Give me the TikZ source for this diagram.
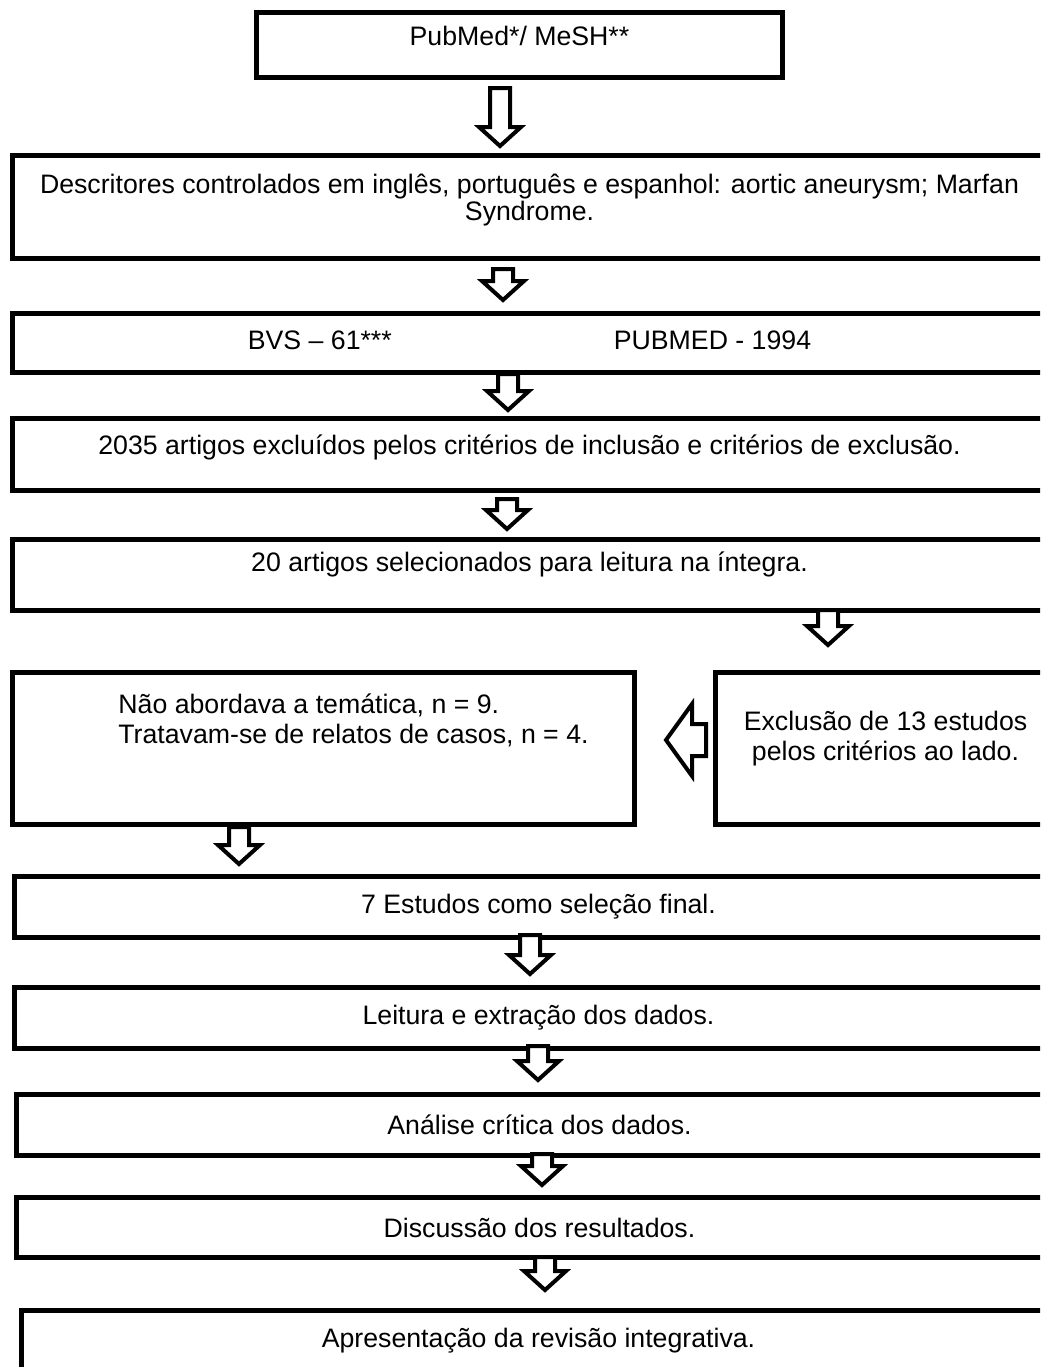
\documentclass[tikz,border=0pt]{standalone}
\usepackage{fontspec}
\setmainfont{Liberation Sans}
\usetikzlibrary{calc}

%downward block arrow: from node, to node, x, start shift, end shift
\newcommand{\blockdown}[5]{%
	\filldraw[arrowbody] ($(#1.south -| #3,0)+(-\sw,#4)$) -- ($(#1.south -| #3,0)+(\sw,#4)$)
		-- ($(#2.north -| #3,0)+(\sw,#5-\hl)$) -- ($(#2.north -| #3,0)+(\hw,#5-\hl)$)
		-- ($(#2.north -| #3,0)+(0,#5)$)
		-- ($(#2.north -| #3,0)+(-\hw,#5-\hl)$) -- ($(#2.north -| #3,0)+(-\sw,#5-\hl)$) -- cycle;}

\begin{document}
\begin{tikzpicture}[x=0.5pt,y=-0.5pt,
	box/.style={draw=black, line width=2.5pt, anchor=north west, inner sep=2pt, align=center, font=\fontsize{13.35}{15}\selectfont},
	boxtext/.style={inner sep=2pt, font=\fontsize{13.35}{15}\selectfont},
	lift/.style={text height=10pt, text depth=#1},
	arrowbody/.style={draw=black, fill=white, line width=2pt}]

	\def\px{0.5pt} %one pixel of the page
	\def\sw{10} %half shaft width
	\def\hw{21} %half head width
	\def\hl{19} %head length

	\useasboundingbox (0,0) rectangle (1040,1367);
	\clip (0,0) rectangle (1040,1367);

	%boxes, top to bottom
	\node[box, lift=10pt, minimum width=526*\px, minimum height=65*\px] (pub) at (254,10) {PubMed*/ MeSH**};
	\node[box, text depth=10pt, font=\fontsize{13.35}{13.5}\selectfont, minimum width=1034*\px, minimum height=103*\px] (desc) at (10,153) {Descritores controlados em inglês, português e espanhol: aortic aneurysm; Marfan\\Syndrome.};
	\node[box, lift=4pt, minimum width=1034*\px, minimum height=59*\px] (bvs) at (10,311) {BVS – 61***\hspace{111pt}PUBMED - 1994};
	\node[box, lift=10pt, minimum width=1034*\px, minimum height=72*\px] (art) at (10,416) {2035 artigos excluídos pelos critérios de inclusão e critérios de exclusão.};
	\node[box, lift=14pt, minimum width=1034*\px, minimum height=71*\px] (sel) at (10,537) {20 artigos selecionados para leitura na íntegra.};

	%side boxes
	\node[box, minimum width=622*\px, minimum height=152*\px] (nao) at (10,670) {};
	\node[boxtext, anchor=north west, align=left] (naotxt) at ($(nao.north west)+(104,19)$) {Não abordava a temática, n = 9.\\Tratavam-se de relatos de casos, n = 4.};
	\node[box, minimum width=340*\px, minimum height=152*\px] (excl) at (713,670) {};
	\node[boxtext, align=center] (excltxt) at ($(excl.north)+(0,69)$) {Exclusão de 13 estudos\\pelos critérios ao lado.};

	\node[box, minimum width=1048*\px, minimum height=61*\px] (sete) at (12,874) {7 Estudos como seleção final.};
	\node[box, minimum width=1048*\px, minimum height=61*\px] (leit) at (12,985) {Leitura e extração dos dados.};
	\node[box, minimum width=1046*\px, minimum height=61*\px] (anal) at (14,1092) {Análise crítica dos dados.};
	\node[box, minimum width=1046*\px, minimum height=60*\px] (disc) at (14,1195) {Discussão dos resultados.};
	\node[box, minimum width=1034*\px, minimum height=60*\px] (apres) at (19,1308) {Apresentação da revisão integrativa.};

	%block arrows
	\blockdown{pub}{desc}{500}{8}{-7}
	\blockdown{desc}{bvs}{503}{8}{-11}
	\blockdown{bvs}{art}{508}{-1}{-6}
	\blockdown{art}{sel}{507}{6}{-8}
	\blockdown{sel}{excl}{828}{-3}{-25}
	\blockdown{nao}{sete}{239}{0}{-10}
	\blockdown{sete}{leit}{530}{-5}{-11}
	\blockdown{leit}{anal}{538}{-5}{-12}
	\blockdown{anal}{disc}{542}{-4}{-10}
	\blockdown{disc}{apres}{545}{-3}{-18}

	%arrow pointing left
	\coordinate (lt) at ($(nao.east |- 0,740)+(29,0)$);
	\coordinate (lb) at ($(excl.west |- 0,740)+(-7,0)$);
	\filldraw[arrowbody] ($(lb)+(0,-16)$) -- ($(lt)+(26,-16)$) -- ($(lt)+(26,-36)$) -- (lt)
		-- ($(lt)+(26,36)$) -- ($(lt)+(26,16)$) -- ($(lb)+(0,16)$) -- cycle;

\end{tikzpicture}
\end{document}
